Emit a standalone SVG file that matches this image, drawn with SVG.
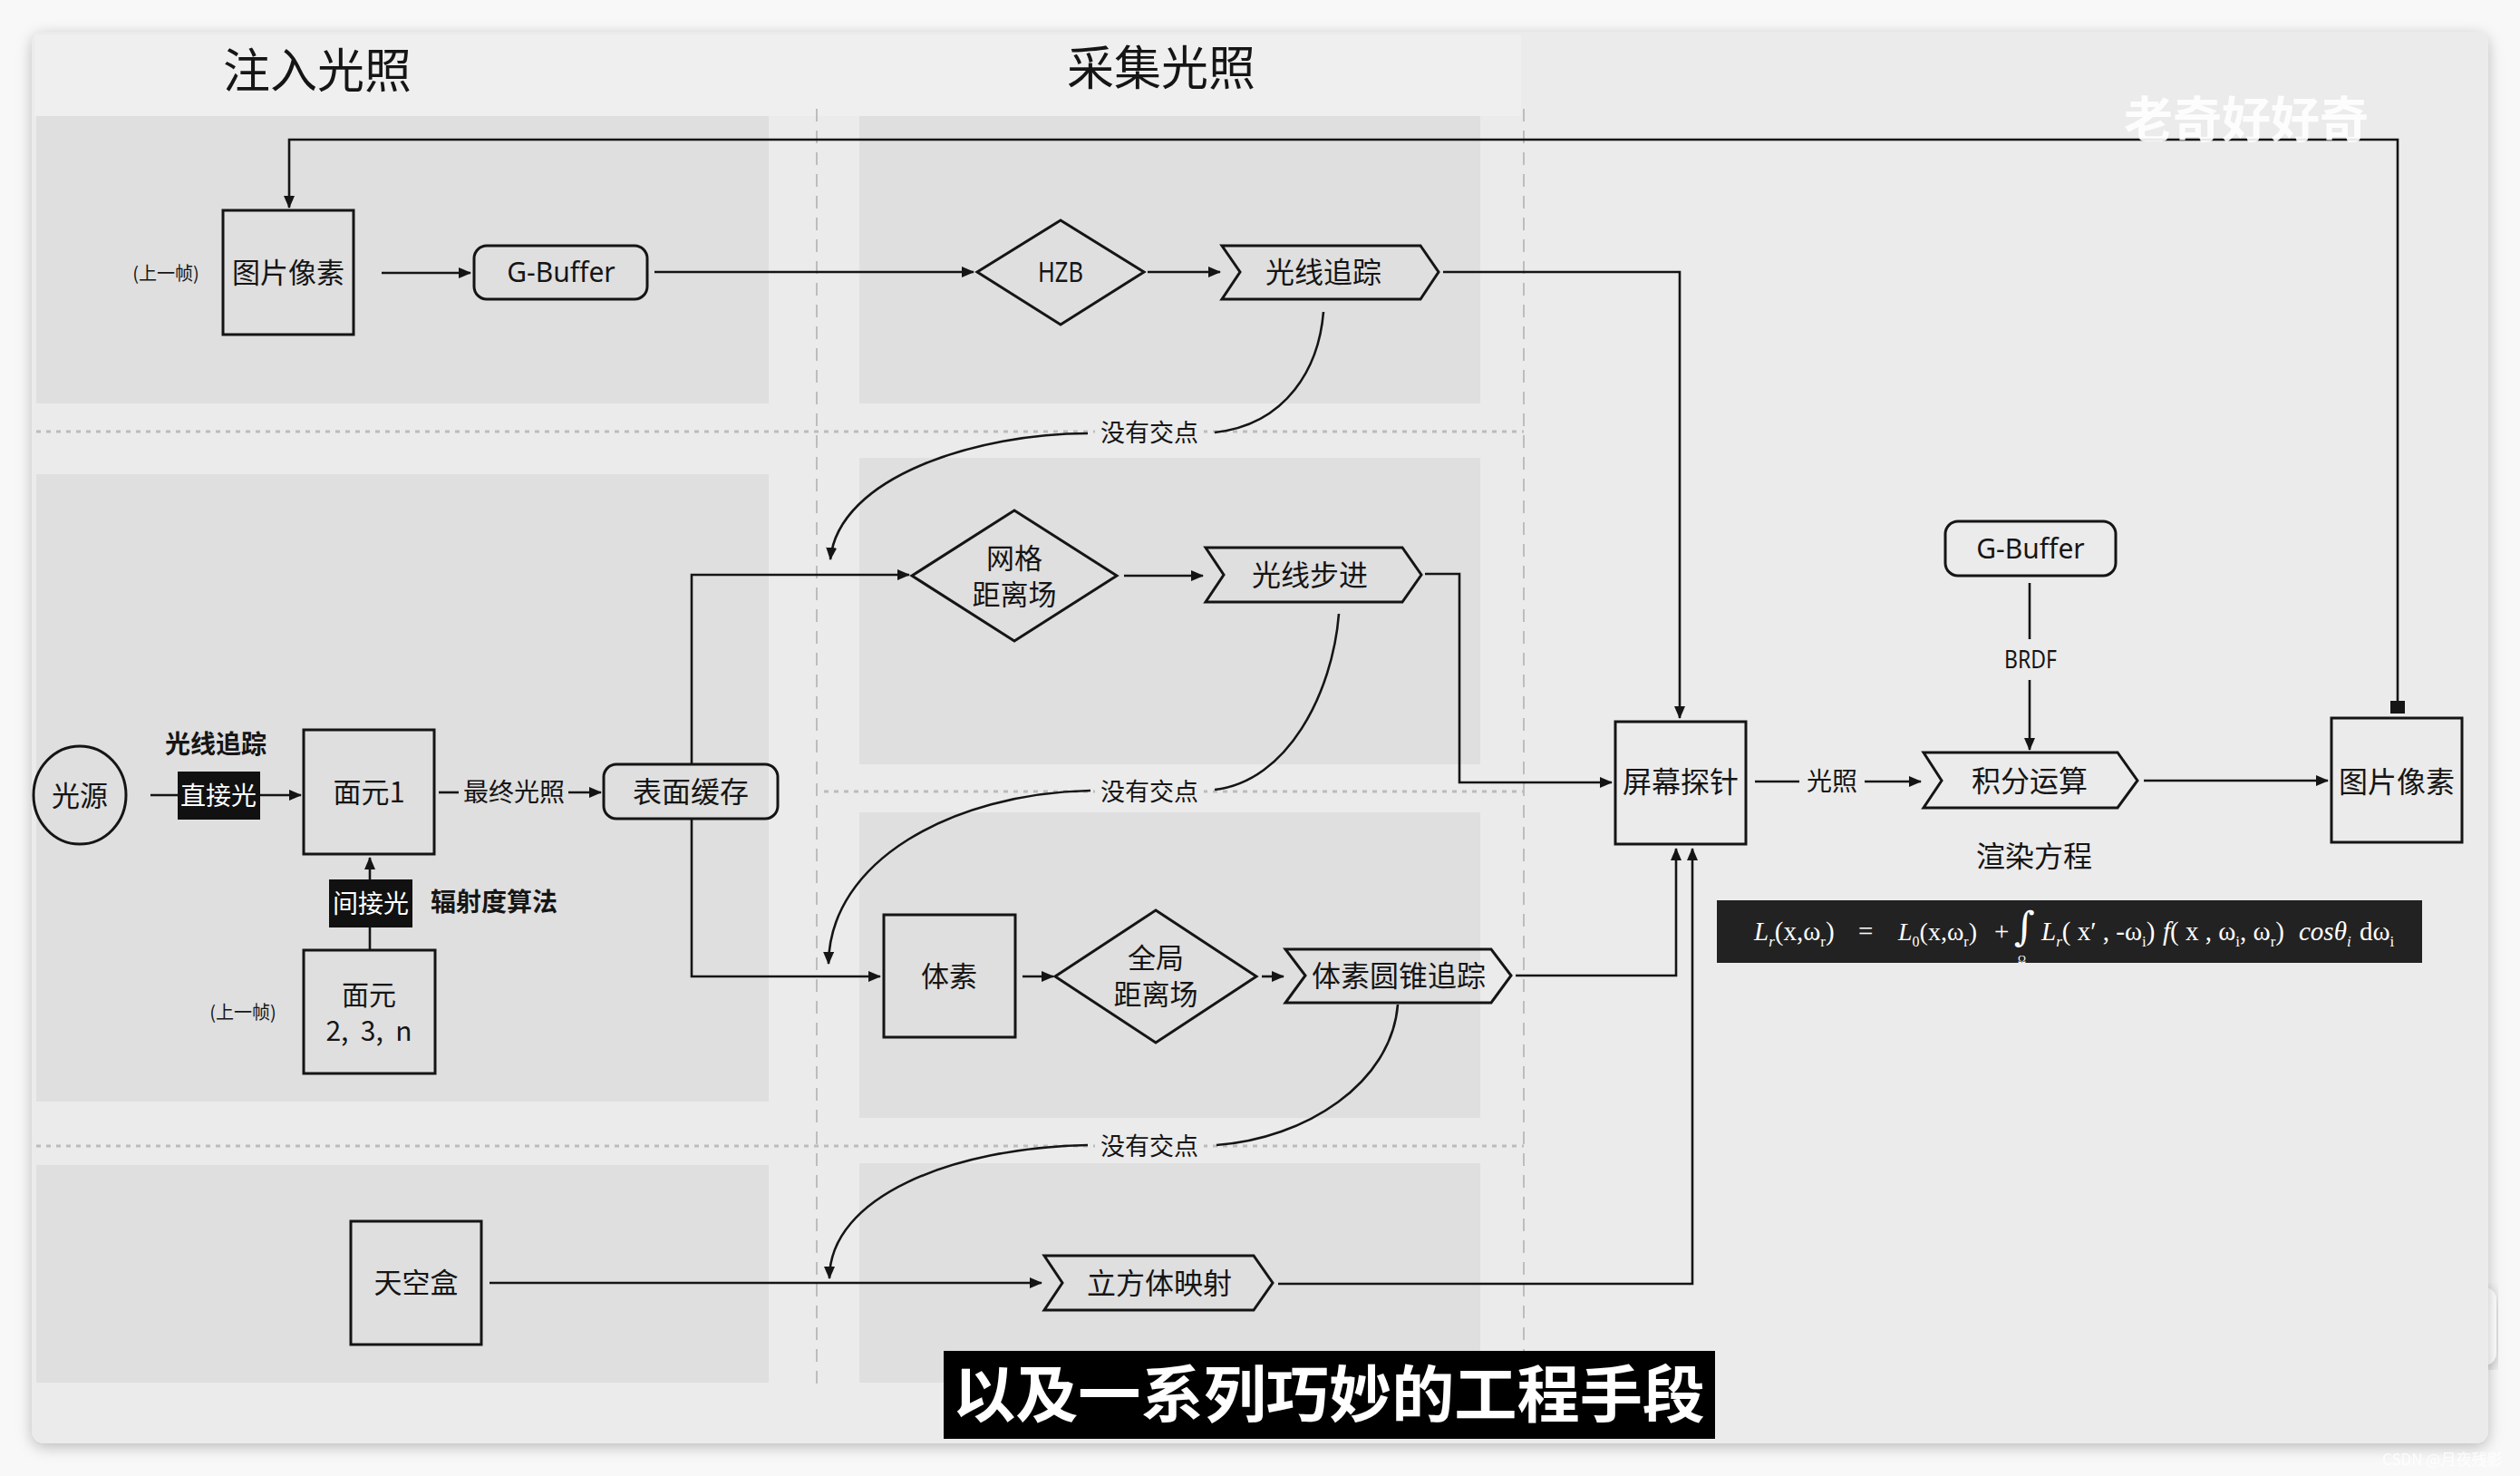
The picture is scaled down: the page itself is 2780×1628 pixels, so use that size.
<svg xmlns="http://www.w3.org/2000/svg" width="2780" height="1628" viewBox="0 0 2780 1628">
<defs>
<style>
.node{fill:none;stroke:#151515;stroke-width:3;stroke-linejoin:miter}
.t{font-family:"Noto Sans CJK SC","Noto Sans",sans-serif;fill:#151515;text-anchor:middle}
.tb{font-family:"Noto Sans CJK SC","Noto Sans",sans-serif;fill:#151515;text-anchor:middle;font-weight:bold}
.tw{font-family:"Noto Sans CJK SC","Noto Sans",sans-serif;fill:#ffffff;text-anchor:middle}
.lat{font-family:"Noto Sans","DejaVu Sans",sans-serif;fill:#151515;text-anchor:middle}
.eq{fill:#ffffff}
.conn path,.conn line{fill:none;stroke:#151515;stroke-width:2.6}
.panel{fill:#dfdfdf}
.vdash{stroke:#bdbdbd;stroke-width:2;stroke-dasharray:14 10;fill:none}
.hdot{stroke:#bcbcbc;stroke-width:3;stroke-dasharray:5 6;fill:none}
.lblbg{fill:#ebebeb}
</style>
<marker id="arr" viewBox="0 0 14 12" refX="13" refY="6" markerWidth="14" markerHeight="12" markerUnits="userSpaceOnUse" orient="auto">
<path d="M0,0 L14,6 L0,12 z" fill="#151515"/>
</marker>
<marker id="sq" viewBox="0 0 14 16" refX="7" refY="8" markerWidth="14" markerHeight="16" markerUnits="userSpaceOnUse" orient="auto">
<rect x="0" y="0" width="14" height="16" fill="#151515"/>
</marker>
<filter id="shadow" x="-5%" y="-5%" width="110%" height="110%">
<feDropShadow dx="0" dy="4" stdDeviation="8" flood-color="#000" flood-opacity="0.25"/>
</filter>
</defs>

<!-- page background -->
<rect x="0" y="0" width="2780" height="1628" fill="#f8f8f8"/>
<rect x="2718" y="1420" width="36" height="86" rx="14" fill="#ffffff" filter="url(#shadow)"/>
<rect x="35" y="35" width="2710" height="1557" rx="14" fill="#ebebeb" filter="url(#shadow)"/>
<rect x="38" y="38" width="1640" height="90" fill="#efefef"/>

<!-- panels -->
<g id="panels">
<rect class="panel" x="40" y="128" width="808" height="317"/>
<rect class="panel" x="40" y="523" width="808" height="692"/>
<rect class="panel" x="40" y="1285" width="808" height="240"/>
<rect class="panel" x="948" y="128" width="685" height="317"/>
<rect class="panel" x="948" y="505" width="685" height="338"/>
<rect class="panel" x="948" y="896" width="685" height="337"/>
<rect class="panel" x="948" y="1283" width="685" height="242"/>
<line class="vdash" x1="901" y1="120" x2="901" y2="1535"/>
<line class="vdash" x1="1681" y1="120" x2="1681" y2="1535"/>
<line class="hdot" x1="40" y1="476" x2="1681" y2="476"/>
<line class="hdot" x1="909" y1="873" x2="1681" y2="873"/>
<line class="hdot" x1="40" y1="1264" x2="1681" y2="1264"/>
</g>

<!-- titles -->
<text class="t" x="350" y="97" font-size="52">注入光照</text>
<text class="t" x="1281" y="94" font-size="52">采集光照</text>

<!-- connectors -->
<g id="connectors" class="conn">
<path d="M421,301 H519" marker-end="url(#arr)"/>
<path d="M722,300 H1074" marker-end="url(#arr)"/>
<path d="M1266,300 H1346" marker-end="url(#arr)"/>
<path d="M1592,300 H1853 V792" marker-end="url(#arr)"/>
<path d="M2645,780 V154 H319 V229" marker-start="url(#sq)" marker-end="url(#arr)"/>
<path d="M763,843 V634 H1003" marker-end="url(#arr)"/>
<path d="M1240,635 H1327" marker-end="url(#arr)"/>
<path d="M1572,633 H1610 V863 H1778" marker-end="url(#arr)"/>
<path d="M763,903 V1077 H971" marker-end="url(#arr)"/>
<path d="M1128,1077 H1162" marker-end="url(#arr)"/>
<path d="M1392,1077 H1416" marker-end="url(#arr)"/>
<path d="M1672,1076 H1849 V936" marker-end="url(#arr)"/>
<path d="M540,1415 H1149" marker-end="url(#arr)"/>
<path d="M1410,1416 H1867 V936" marker-end="url(#arr)"/>
<path d="M166,877 H332" marker-end="url(#arr)"/>
<path d="M484,874 H506"/>
<path d="M627,874 H663" marker-end="url(#arr)"/>
<path d="M408,1048 V946" marker-end="url(#arr)"/>
<path d="M1936,862 H1985"/>
<path d="M2057,862 H2119" marker-end="url(#arr)"/>
<path d="M2239,643 V705"/>
<path d="M2239,750 V827" marker-end="url(#arr)"/>
<path d="M2365,861 H2568" marker-end="url(#arr)"/>
<path d="M1460,344 C1455,405 1420,468 1340,477"/>
<path d="M1200,478 C1080,478 925,525 916,617" marker-end="url(#arr)"/>
<path d="M1477,677 C1470,765 1420,862 1340,871"/>
<path d="M1203,872 C1050,875 915,950 914,1063" marker-end="url(#arr)"/>
<path d="M1542,1108 C1535,1195 1440,1256 1342,1263"/>
<path d="M1200,1263 C1050,1266 915,1320 915,1410" marker-end="url(#arr)"/>
</g>

<!-- connector labels -->
<g id="labels">
<rect class="lblbg" x="1208" y="460" width="120" height="34"/>
<text class="t" x="1268" y="487" font-size="27">没有交点</text>
<rect class="lblbg" x="1208" y="856" width="120" height="34"/>
<text class="t" x="1268" y="883" font-size="27">没有交点</text>
<rect class="lblbg" x="1208" y="1247" width="120" height="34"/>
<text class="t" x="1268" y="1274" font-size="27">没有交点</text>
<text class="t" x="567" y="884" font-size="28">最终光照</text>
<text class="t" x="2021" y="872" font-size="28">光照</text>
<text class="lat" x="2240" y="737" font-size="27" textLength="58" lengthAdjust="spacingAndGlyphs">BRDF</text>
<text class="tb" x="238" y="831" font-size="28">光线追踪</text>
<text class="tb" x="545" y="1005" font-size="28">辐射度算法</text>
<text class="t" x="183" y="309" font-size="20">(上一帧)</text>
<text class="t" x="268" y="1124" font-size="20">(上一帧)</text>
</g>

<!-- nodes -->
<g id="n-pixels-prev">
<rect class="node" x="246" y="232" width="144" height="137"/>
<text class="t" x="318" y="312" font-size="31">图片像素</text>
</g>
<g id="n-gbuffer1">
<rect class="node" x="523" y="271" width="191" height="59" rx="14"/>
<text class="lat" x="619" y="311" font-size="30">G-Buffer</text>
</g>
<g id="n-hzb">
<polygon class="node" points="1170,243 1262,300 1170,358 1078,300"/>
<text class="lat" x="1170" y="311" font-size="30" textLength="50" lengthAdjust="spacingAndGlyphs">HZB</text>
</g>
<g id="n-raytrace">
<polygon class="node" points="1348,271 1567,271 1587,300 1567,330 1348,330 1368,300"/>
<text class="t" x="1460" y="312" font-size="32">光线追踪</text>
</g>
<g id="n-meshsdf">
<polygon class="node" points="1119,563 1232,635 1119,707 1006,635"/>
<text class="t" x="1119" y="627" font-size="31">网格</text>
<text class="t" x="1119" y="667" font-size="31">距离场</text>
</g>
<g id="n-raymarch">
<polygon class="node" points="1330,604 1547,604 1568,634 1547,664 1330,664 1350,634"/>
<text class="t" x="1445" y="646" font-size="32">光线步进</text>
</g>
<g id="n-light">
<ellipse class="node" cx="88" cy="877" rx="51" ry="54"/>
<text class="t" x="88" y="889" font-size="31">光源</text>
</g>
<g id="n-direct">
<rect x="196" y="851" width="91" height="53" fill="#111"/>
<text class="tw" x="241" y="888" font-size="28">直接光</text>
</g>
<g id="n-patch1">
<rect class="node" x="335" y="805" width="144" height="137"/>
<text class="t" x="407" y="885" font-size="31">面元1</text>
</g>
<g id="n-surfcache">
<rect class="node" x="666" y="843" width="192" height="60" rx="14"/>
<text class="t" x="762" y="885" font-size="32">表面缓存</text>
</g>
<g id="n-indirect">
<rect x="363" y="970" width="92" height="53" fill="#111"/>
<text class="tw" x="409" y="1007" font-size="28">间接光</text>
</g>
<g id="n-patchn">
<rect class="node" x="335" y="1048" width="145" height="136"/>
<text class="t" x="407" y="1108" font-size="30">面元</text>
<text class="t" x="407" y="1148" font-size="30">2,&#160;&#160;3,&#160;&#160;n</text>
</g>
<g id="n-voxel">
<rect class="node" x="975" y="1009" width="145" height="135"/>
<text class="t" x="1047" y="1088" font-size="31">体素</text>
</g>
<g id="n-globalsdf">
<polygon class="node" points="1275,1004 1386,1077 1275,1150 1164,1077"/>
<text class="t" x="1275" y="1068" font-size="31">全局</text>
<text class="t" x="1275" y="1108" font-size="31">距离场</text>
</g>
<g id="n-conetrace">
<polygon class="node" points="1418,1047 1645,1047 1667,1076 1645,1106 1418,1106 1440,1076"/>
<text class="t" x="1543" y="1088" font-size="32">体素圆锥追踪</text>
</g>
<g id="n-skybox">
<rect class="node" x="387" y="1347" width="144" height="136"/>
<text class="t" x="459" y="1426" font-size="31">天空盒</text>
</g>
<g id="n-cubemap">
<polygon class="node" points="1152,1385 1383,1385 1404,1415 1383,1445 1152,1445 1172,1415"/>
<text class="t" x="1279" y="1427" font-size="32">立方体映射</text>
</g>
<g id="n-probe">
<rect class="node" x="1782" y="796" width="144" height="135"/>
<text class="t" x="1854" y="874" font-size="32">屏幕探针</text>
</g>
<g id="n-integrate">
<polygon class="node" points="2122,830 2336,830 2358,861 2336,891 2122,891 2142,861"/>
<text class="t" x="2239" y="873" font-size="32">积分运算</text>
</g>
<g id="n-gbuffer2">
<rect class="node" x="2146" y="575" width="188" height="60" rx="14"/>
<text class="lat" x="2240" y="616" font-size="30">G-Buffer</text>
</g>
<g id="n-pixels">
<rect class="node" x="2572" y="792" width="144" height="137"/>
<text class="t" x="2644" y="874" font-size="32">图片像素</text>
</g>
<g id="n-renderEq" font-family="Liberation Serif, serif">
<text class="t" x="2244" y="956" font-size="32">渲染方程</text>
<rect x="1894" y="993" width="778" height="69" fill="#222222"/>
<text class="eq" x="1935" y="1037" font-size="29"><tspan font-style="italic">L</tspan><tspan font-size="17" dy="7" font-style="italic">r</tspan><tspan dy="-7">(x,ω</tspan><tspan font-size="17" dy="7">r</tspan><tspan dy="-7">)</tspan></text>
<text class="eq" x="2050" y="1037" font-size="29">=</text>
<text class="eq" x="2094" y="1037" font-size="28"><tspan font-style="italic">L</tspan><tspan font-size="16" dy="7">0</tspan><tspan dy="-7">(x,ω</tspan><tspan font-size="16" dy="7">r</tspan><tspan dy="-7">)</tspan></text>
<text class="eq" x="2200" y="1037" font-size="29">+</text>
<text class="eq" x="2222" y="1037" font-size="44" font-family="DejaVu Serif, serif">∫</text>
<text class="eq" x="2226" y="1062" font-size="12">Ω</text>
<text class="eq" x="2252" y="1037" font-size="29"><tspan font-style="italic">L</tspan><tspan font-size="17" dy="7" font-style="italic">r</tspan><tspan dy="-7">( x′ , -ω</tspan><tspan font-size="17" dy="7">i</tspan><tspan dy="-7">)</tspan></text>
<text class="eq" x="2386" y="1037" font-size="29"><tspan font-style="italic">f</tspan><tspan>( x , ω</tspan><tspan font-size="17" dy="7">i</tspan><tspan dy="-7">, ω</tspan><tspan font-size="17" dy="7">r</tspan><tspan dy="-7">)</tspan></text>
<text class="eq" x="2536" y="1037" font-size="29" font-style="italic">cosθ<tspan font-size="17" dy="7">i</tspan></text>
<text class="eq" x="2603" y="1037" font-size="29">dω<tspan font-size="17" dy="7">i</tspan></text>
</g>

<!-- subtitle and watermarks -->
<rect x="1041" y="1490" width="851" height="97" fill="#000000"/>
<text class="tw" x="1466" y="1563" font-size="68" font-weight="bold" textLength="830" lengthAdjust="spacingAndGlyphs">以及一系列巧妙的工程手段</text>
<text class="tw" x="2478" y="152" font-size="54" font-weight="bold" opacity="0.9">老奇好好奇</text>
<text x="2628" y="1616" font-family="Noto Sans CJK SC, Noto Sans, sans-serif" font-size="17" fill="#ffffff" opacity="0.85">CSDN @月夜残影</text>
</svg>
